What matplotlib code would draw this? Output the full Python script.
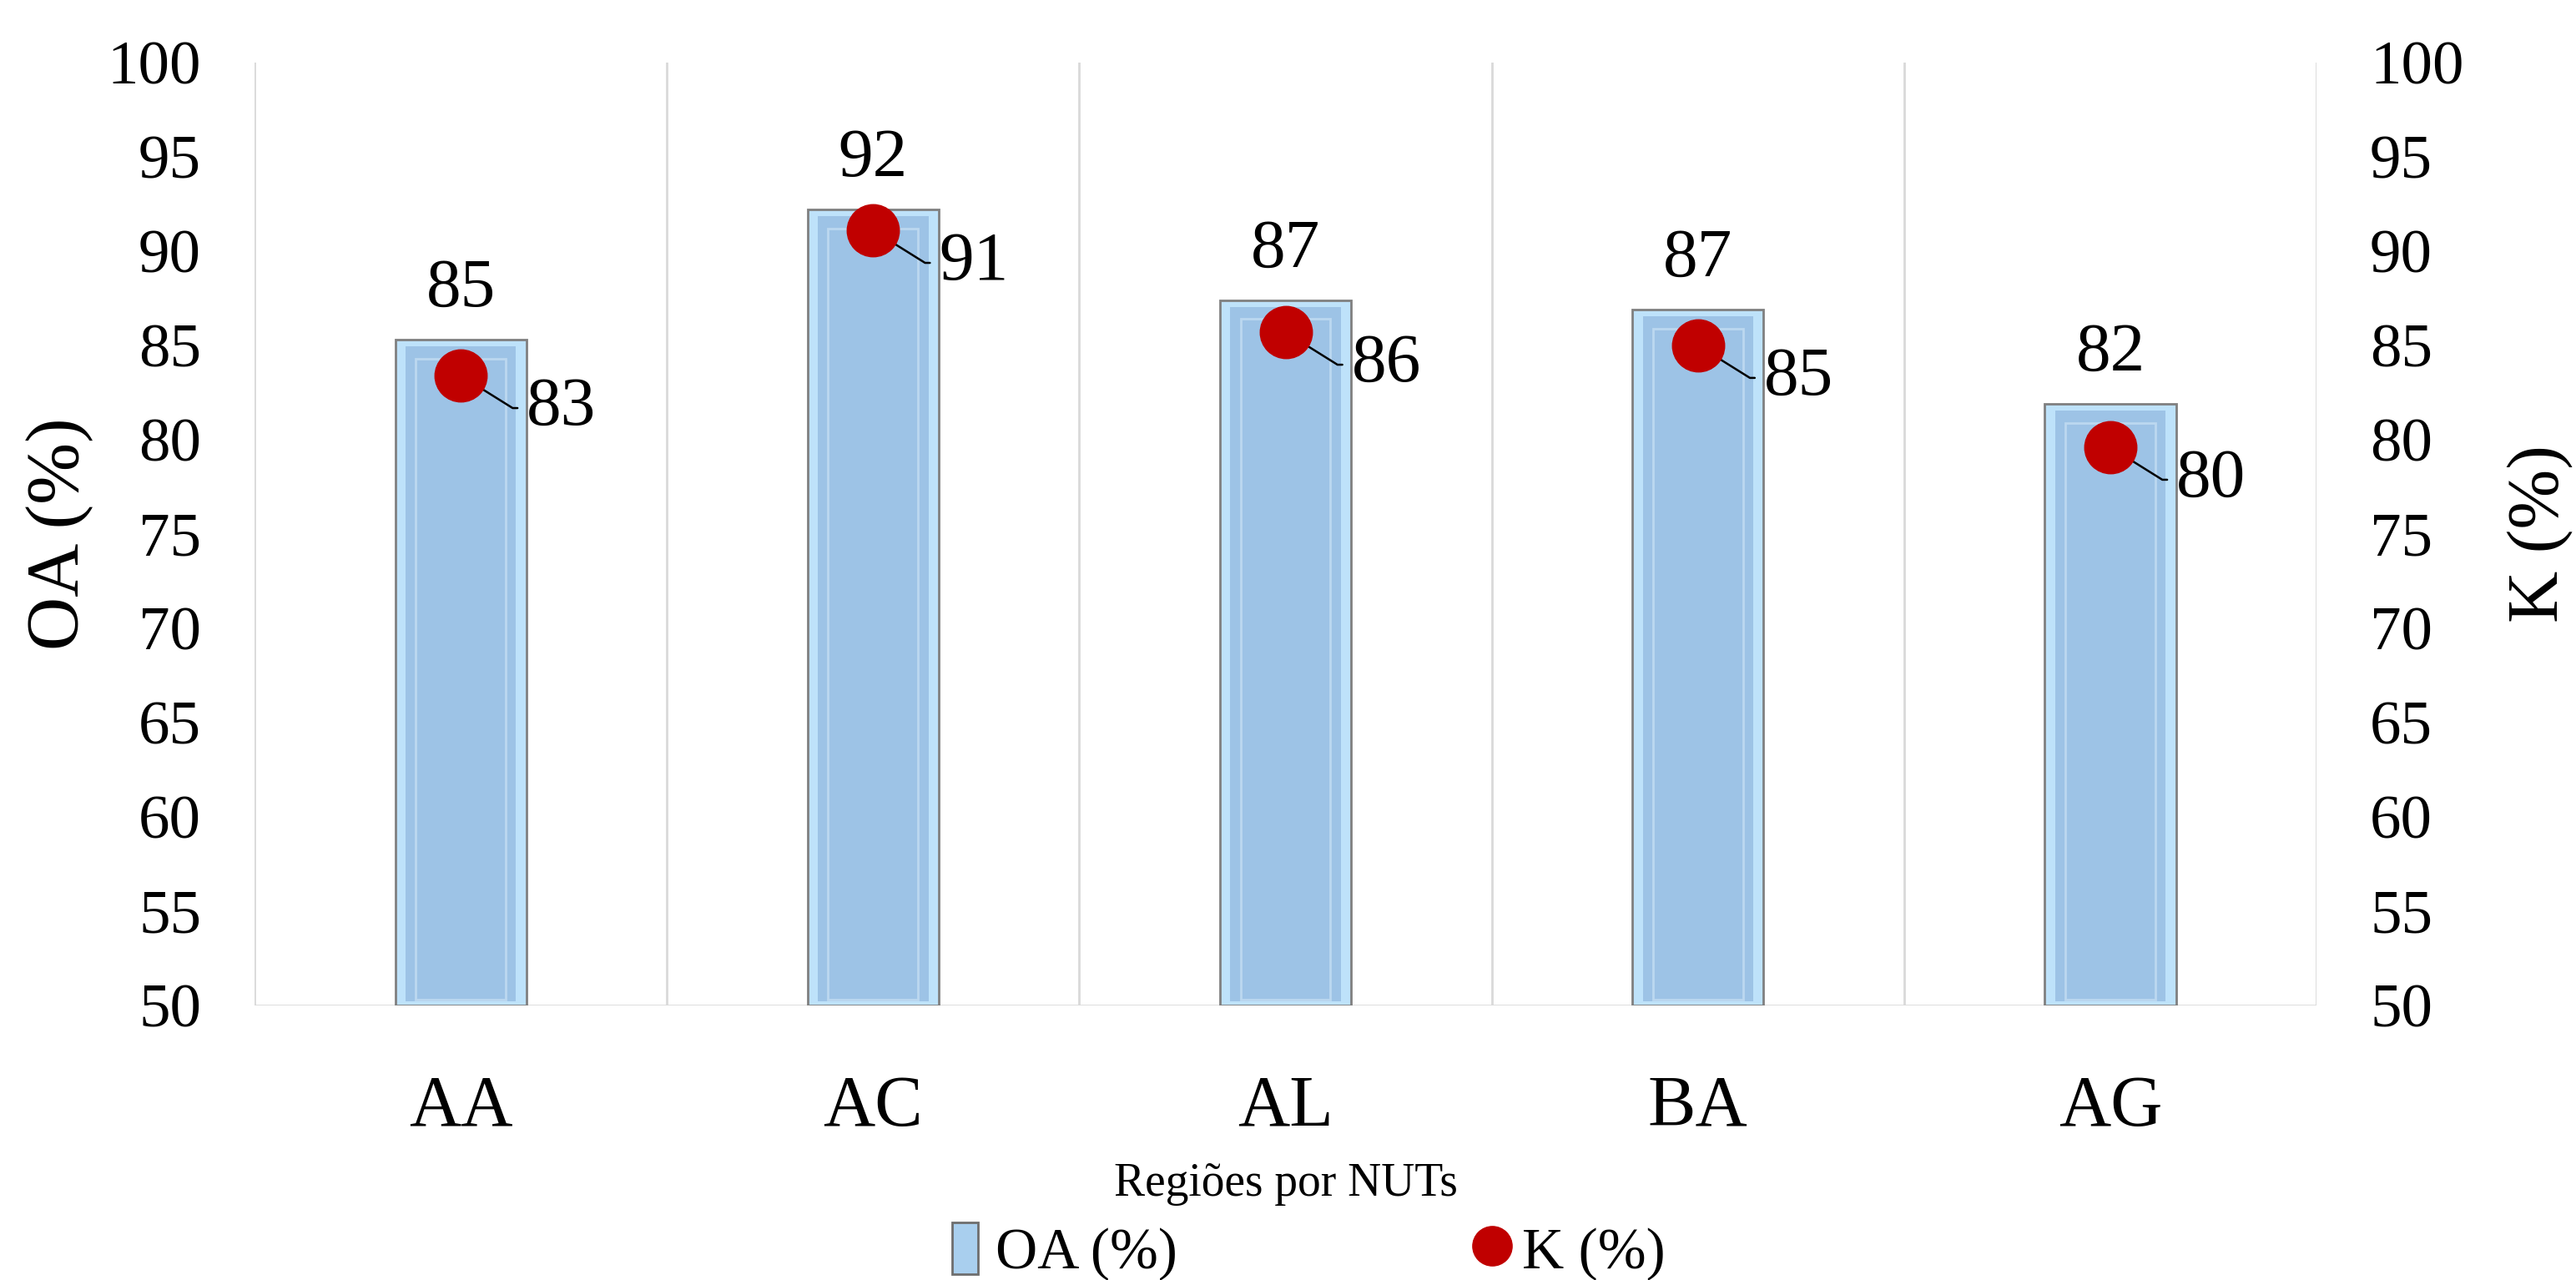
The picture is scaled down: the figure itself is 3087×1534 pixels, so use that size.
import numpy as np
import matplotlib.pyplot as plt
from matplotlib.patches import Patch
from matplotlib.lines import Line2D

regioes = ["AA", "AC", "AL", "BA", "AG"]
oa = [85.3, 92.2, 87.4, 86.9, 81.9]
kappa = [83.4, 91.1, 85.7, 85.0, 79.6]

plt.rcParams['font.family'] = ['Liberation Serif', 'DejaVu Serif']

fig = plt.figure(figsize=(30.87, 15.34), dpi=100)
ax = fig.add_axes([0.0988, 0.2145, 0.8005, 0.7366])
ax2 = ax.twinx()

x = np.arange(len(regioes))
w = 0.318
# barra com efeito de bisel
ax.bar(x, np.array(oa) - 50, w, bottom=50, color='#BEE2FA', edgecolor='#808080', lw=2, zorder=2)
ax.bar(x, np.array(oa) - 50 - 0.55, w - 0.05, bottom=50.2, color='#9DC3E6', lw=0, zorder=3)
ax.bar(x, np.array(oa) - 50 - 1.3, w - 0.1, bottom=50.3, color='none', edgecolor='#BCD8F0', lw=2, zorder=4)

for xi, v in zip(x, oa):
    ax.annotate(f"{v:.0f}", (xi, v), xytext=(0, 16), textcoords='offset points',
                ha='center', va='bottom', fontsize=60)

ax2.plot(x, kappa, 'o', color='#C00000', ms=45, zorder=5)
for xi, v in zip(x, kappa):
    ax2.annotate(f"{v:.0f}", (xi, v), xytext=(57, -28), textcoords='offset points',
                 ha='left', va='center', fontsize=60,
                 arrowprops=dict(arrowstyle='-', color='black', lw=1.8, relpos=(0, 0.5),
                                 shrinkA=6, shrinkB=0,
                                 connectionstyle='angle,angleA=0,angleB=-32,rad=0'))

for a in (ax, ax2):
    a.set_ylim(50, 100)
    a.set_yticks(np.arange(50, 101, 5))
    a.tick_params(length=0, labelsize=54, pad=46)
    for s in a.spines.values():
        s.set_visible(False)
ax.set_xlim(-0.5, len(regioes) - 0.5)
ax.set_xticks(x)
ax.set_xticklabels(regioes, fontsize=62)
ax.tick_params(axis='x', pad=60)

for b in np.arange(-0.5, len(regioes), 1):
    ax.axvline(b, color='#D9D9D9', lw=2, zorder=1)
ax.axhline(50, color='#D9D9D9', lw=2, zorder=1)

ax.set_ylabel("OA (%)", fontsize=64)
ax.yaxis.set_label_coords(-0.078, 0.5)
ax2.set_ylabel("K (%)", fontsize=62)
ax2.yaxis.set_label_coords(1.092, 0.5)
ax.set_xlabel("Regiões por NUTs", fontsize=40, labelpad=18)

handles = [Patch(facecolor='#A9CFEE', edgecolor='#6E6E6E', lw=2),
           Line2D([], [], marker='o', ls='none', color='#C00000', ms=34)]
fig.legend(handles, ["OA (%)", "K (%)"], loc='center', bbox_to_anchor=(0.508, 0.022),
           ncol=2, frameon=False, fontsize=50, columnspacing=5.2,
           handlelength=0.45, handleheight=1.0, handletextpad=0.3)

fig.savefig("out.png", dpi=100)
